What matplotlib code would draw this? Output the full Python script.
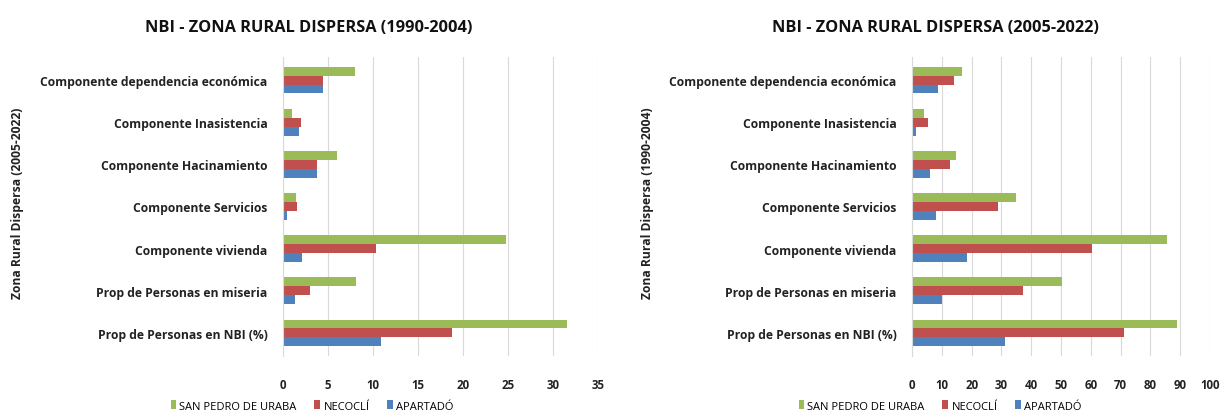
import matplotlib.pyplot as plt
import numpy as np

plt.rcParams['font.family'] = ['Open Sans', 'DejaVu Sans']

categories = ['Prop de Personas en NBI (%)', 'Prop de Personas en miseria',
              'Componente vivienda', 'Componente Servicios',
              'Componente Hacinamiento', 'Componente Inasistencia',
              'Componente dependencia económica']

series_names = ['SAN PEDRO DE URABA', 'NECOCLÍ', 'APARTADÓ']
colors = ['#9BBB59', '#C0504D', '#4F81BD']

# 1990-2004
san_pedro_1 = [31.6, 8.15, 24.8, 1.45, 6.0, 1.0, 8.0]
necocli_1 = [18.8, 3.0, 10.35, 1.5, 3.8, 2.0, 4.4]
apartado_1 = [10.9, 1.35, 2.1, 0.4, 3.8, 1.75, 4.4]

# 2005-2022
san_pedro_2 = [89.0, 50.5, 85.6, 35.0, 14.6, 4.0, 16.9]
necocli_2 = [71.0, 37.2, 60.3, 28.9, 12.9, 5.5, 14.0]
apartado_2 = [31.3, 9.9, 18.6, 7.9, 5.9, 1.3, 8.8]

fig = plt.figure(figsize=(12.21, 4.14), dpi=100)
W, H = 1221, 414


def make_panel(rect, data, title, ylabel, xmax, step, title_x, ylabel_x, legend_x):
    ax = fig.add_axes(rect)
    y = np.arange(len(categories))
    h = 0.21
    offsets = [h, 0, -h]
    for vals, off, c, name in zip(data, offsets, colors, series_names):
        ax.barh(y + off, vals, height=h, color=c, label=name)
    ax.set_yticks(y)
    ax.set_yticklabels(categories, fontsize=8.7, fontweight='bold', color='#222222')
    ax.set_ylim(-0.55, len(categories) - 0.45)
    ax.set_xlim(0, xmax)
    ax.set_xticks(np.arange(0, xmax + 0.1, step))
    ax.tick_params(axis='x', labelsize=8.3, length=0, pad=16, colors='#222222')
    ax.tick_params(axis='y', length=0, pad=11)
    for lbl in ax.get_xticklabels():
        lbl.set_fontweight('bold')
    ax.grid(axis='x', color='#D9D9D9', linewidth=0.8)
    ax.set_axisbelow(True)
    for s in ['top', 'right', 'bottom']:
        ax.spines[s].set_visible(False)
    ax.spines['left'].set_color('#D9D9D9')
    fig.text(title_x, 1 - 28 / H, title, ha='center', va='center',
             fontsize=11.8, fontweight='bold', color='#111111')
    fig.text(ylabel_x, rect[1] + rect[3] / 2 + 4 / H, ylabel, rotation=90, ha='center',
             va='center', fontsize=8.7, fontweight='bold', color='#222222')
    handles, labels = ax.get_legend_handles_labels()
    fig.legend(handles, labels, loc='center', bbox_to_anchor=(legend_x, 1 - 407 / H),
               ncol=3, frameon=False, fontsize=8, handlelength=0.5,
               handleheight=0.8, handletextpad=0.3, columnspacing=1.6)
    return ax


bottom = 1 - 357 / H
height = (357 - 58) / H

make_panel([283 / W, bottom, (598 - 283) / W, height],
           [san_pedro_1, necocli_1, apartado_1],
           'NBI - ZONA RURAL DISPERSA (1990-2004)', 'Zona Rural Dispersa (2005-2022)',
           35, 5, 309 / W, 18 / W, 312 / W)

make_panel([912 / W, bottom, (1210 - 912) / W, height],
           [san_pedro_2, necocli_2, apartado_2],
           'NBI - ZONA RURAL DISPERSA (2005-2022)', 'Zona Rural Dispersa (1990-2004)',
           100, 10, 935 / W, 648 / W, 940 / W)

fig.savefig('out.png', dpi=100)
